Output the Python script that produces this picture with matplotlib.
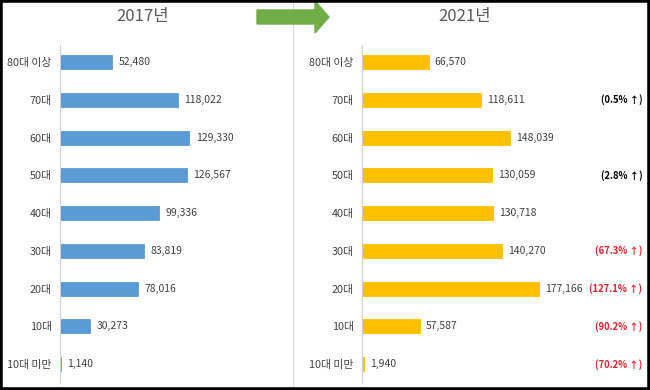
import matplotlib.pyplot as plt
from matplotlib.patches import FancyArrow, Rectangle
from matplotlib.lines import Line2D

plt.rcParams['font.family'] = ['Noto Sans CJK KR', 'DejaVu Sans']

ages = ["80대 이상", "70대", "60대", "50대", "40대", "30대", "20대", "10대", "10대 미만"]
v2017 = [52480, 118022, 129330, 126567, 99336, 83819, 78016, 30273, 1140]
v2021 = [66570, 118611, 148039, 130059, 130718, 140270, 177166, 57587, 1940]
change_rows = [1, 3, 5, 6, 7, 8]
change_txt = ["(0.5% ↑)", "(2.8% ↑)", "(67.3% ↑)", "(127.1% ↑)", "(90.2% ↑)", "(70.2% ↑)"]
change_col = ["black", "black", "#e0202a", "#e0202a", "#e0202a", "#e0202a"]

W, H = 650, 390
fig = plt.figure(figsize=(6.5, 3.9), dpi=100)


def px(x0, y0, x1, y1):
    return [x0 / W, 1 - y1 / H, (x1 - x0) / W, (y1 - y0) / H]


def panel(rect, vals, color, xmax, title, tx):
    ax = fig.add_axes(rect)
    y = list(range(len(ages)))
    ax.barh(y, vals, height=0.37, color=color, edgecolor=color, linewidth=0.6)
    ax.set_xlim(0, xmax)
    ax.set_ylim(8.5, -0.45)
    ax.set_yticks(y)
    ax.set_yticklabels(ages, fontsize=7.8, color="#404040")
    ax.tick_params(axis="y", length=0, pad=6)
    ax.set_xticks([])
    for s in ["top", "right", "bottom"]:
        ax.spines[s].set_visible(False)
    ax.spines["left"].set_color("#d0d0d0")
    for i, v in enumerate(vals):
        ax.annotate(f"{v:,}", (v, i), xytext=(4.5, 0), textcoords="offset points",
                    va="center", ha="left", fontsize=7.5, color="#404040")
    fig.text(tx / W, 1 - 17 / H, title, ha="center", va="center",
             fontsize=12, color="#595959")
    return ax


panel(px(60, 45, 290, 383), v2017, "#5b9bd5", 230000, "2017년", 143)
ax2 = panel(px(362, 45, 645, 383), v2021, "#ffc000", 283000, "2021년", 465)

for r, t, c in zip(change_rows, change_txt, change_col):
    ax2.text(0.99, r, t, transform=ax2.get_yaxis_transform(), ha="right",
             va="center", fontsize=6.8, fontweight="bold", color=c)

# separator line
fig.add_artist(Line2D([293 / W, 293 / W], [0, 1], color="#d9d9d9", lw=0.8, zorder=1))

# green arrow
fig.add_artist(FancyArrow(257 / W, 1 - 17 / H, 58 / W, 0, width=14 / H,
                          head_width=32 / H, head_length=14 / W,
                          length_includes_head=False, color="#70ad47",
                          transform=fig.transFigure, zorder=5))

# black frame
fig.add_artist(Rectangle((0, 0), 1, 1, transform=fig.transFigure, fill=False,
                         edgecolor="black", lw=4, zorder=10))

fig.savefig("out.png", dpi=100)
